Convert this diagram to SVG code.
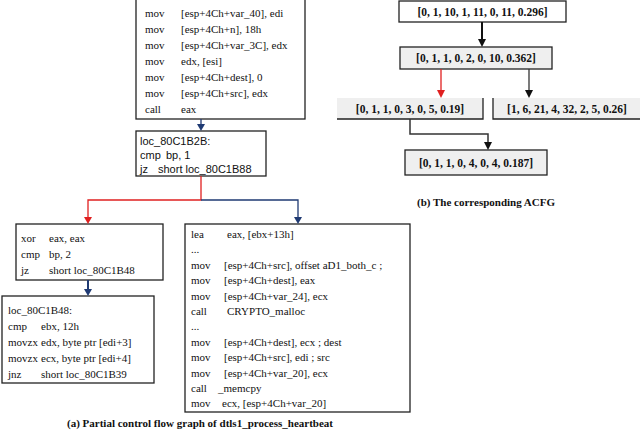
<svg xmlns="http://www.w3.org/2000/svg" width="640" height="431" viewBox="0 0 640 431">
<style>
.b{fill:#fff;stroke:#222;stroke-width:1.3}
.g{fill:#efefef;stroke:#222;stroke-width:1.3}
.t{font-family:"Liberation Serif",serif;font-size:11px;fill:#111}
.s{font-family:"Liberation Sans",sans-serif;font-size:11px;fill:#111}
.v{font-family:"Liberation Serif",serif;font-size:11.5px;font-weight:bold;fill:#111}
.c{font-family:"Liberation Serif",serif;font-size:11px;font-weight:bold;fill:#111}
</style>
<g id="n1"><rect class="b" x="136" y="-1" width="169" height="120"/>
<text class="t" x="145" y="17">mov</text><text class="t" x="181" y="17">[esp+4Ch+var_40], edi</text>
<text class="t" x="145" y="33">mov</text><text class="t" x="181" y="33">[esp+4Ch+n], 18h</text>
<text class="t" x="145" y="49">mov</text><text class="t" x="181" y="49">[esp+4Ch+var_3C], edx</text>
<text class="t" x="145" y="65">mov</text><text class="t" x="181" y="65">edx, [esi]</text>
<text class="t" x="145" y="81">mov</text><text class="t" x="181" y="81">[esp+4Ch+dest], 0</text>
<text class="t" x="145" y="97">mov</text><text class="t" x="181" y="97">[esp+4Ch+src], edx</text>
<text class="t" x="145" y="113">call</text><text class="t" x="181" y="113">eax</text></g>
<g id="n2"><rect class="b" x="136" y="131" width="130" height="45"/>
<text class="s" x="140" y="145">loc_80C1B2B:</text>
<text class="s" x="140" y="159">cmp</text><text class="s" x="166" y="159">bp, 1</text>
<text class="s" x="140" y="173">jz</text><text class="s" x="158" y="173">short loc_80C1B88</text></g>
<g id="n3"><rect class="b" x="16" y="224" width="147" height="56"/>
<text class="t" x="21" y="242">xor</text><text class="t" x="49" y="242">eax, eax</text>
<text class="t" x="21" y="258">cmp</text><text class="t" x="49" y="258">bp, 2</text>
<text class="t" x="21" y="274">jz</text><text class="t" x="49" y="274">short loc_80C1B48</text></g>
<g id="n4"><rect class="b" x="2" y="296" width="152" height="87"/>
<text class="t" x="8" y="314">loc_80C1B48:</text>
<text class="t" x="8" y="330">cmp</text><text class="t" x="41" y="330">ebx, 12h</text>
<text class="t" x="8" y="346">movzx</text><text class="t" x="41" y="346">edx, byte ptr [edi+3]</text>
<text class="t" x="8" y="362">movzx</text><text class="t" x="41" y="362">ecx, byte ptr [edi+4]</text>
<text class="t" x="8" y="378">jnz</text><text class="t" x="41" y="378">short loc_80C1B39</text></g>
<g id="n5"><rect class="b" x="185" y="224" width="225" height="188"/>
<text class="t" x="191" y="238">lea</text><text class="t" x="227" y="238">eax, [ebx+13h]</text>
<text class="t" x="191" y="253">...</text>
<text class="t" x="191" y="269">mov</text><text class="t" x="224" y="269">[esp+4Ch+src], offset aD1_both_c ;</text>
<text class="t" x="191" y="284">mov</text><text class="t" x="224" y="284">[esp+4Ch+dest], eax</text>
<text class="t" x="191" y="300">mov</text><text class="t" x="224" y="300">[esp+4Ch+var_24], ecx</text>
<text class="t" x="191" y="315">call</text><text class="t" x="227" y="315">CRYPTO_malloc</text>
<text class="t" x="191" y="330">...</text>
<text class="t" x="191" y="346">mov</text><text class="t" x="224" y="346">[esp+4Ch+dest], ecx ; dest</text>
<text class="t" x="191" y="361">mov</text><text class="t" x="224" y="361">[esp+4Ch+src], edi ; src</text>
<text class="t" x="191" y="377">mov</text><text class="t" x="224" y="377">[esp+4Ch+var_20], ecx</text>
<text class="t" x="191" y="392">call</text><text class="t" x="218" y="392">_memcpy</text>
<text class="t" x="191" y="407">mov</text><text class="t" x="222" y="407">ecx, [esp+4Ch+var_20]</text></g>
<g id="a"><rect class="b" x="399" y="1" width="167" height="21"/><text class="v" x="482.5" y="16" text-anchor="middle">[0, 1, 10, 1, 11, 0, 11, 0.296]</text></g>
<g id="b"><rect class="g" x="400" y="47" width="152" height="22"/><text class="v" x="476" y="62" text-anchor="middle">[0, 1, 1, 0, 2, 0, 10, 0.362]</text></g>
<g id="c"><rect x="337" y="98" width="146" height="21" fill="#efefef"/><path d="M483,98V119H337" fill="none" stroke="#222" stroke-width="1.3"/><text class="v" x="410" y="113" text-anchor="middle">[0, 1, 1, 0, 3, 0, 5, 0.19]</text></g>
<g id="d"><rect x="493" y="98" width="147" height="21" fill="#efefef"/><path d="M493,98V119H640" fill="none" stroke="#222" stroke-width="1.3"/><text class="v" x="567" y="113" text-anchor="middle">[1, 6, 21, 4, 32, 2, 5, 0.26]</text></g>
<g id="e"><rect class="g" x="405" y="150" width="142" height="25"/><text class="v" x="476" y="167" text-anchor="middle">[0, 1, 1, 0, 4, 0, 4, 0.187]</text></g>
<g id="connectors" fill="none" stroke-width="1.3">
<path d="M201,119V126" stroke="#1f3a73"/><path d="M197,124L205,124L201,131z" fill="#1f3a73" stroke="none"/>
<path d="M201,176V200H88V218" stroke="#e02020"/><path d="M84,217L92,217L88,224z" fill="#e02020" stroke="none"/>
<path d="M201,200H298V218" stroke="#1f3a73"/><path d="M294,217L302,217L298,224z" fill="#1f3a73" stroke="none"/>
<path d="M88,280V290" stroke="#1f3a73" stroke-width="2"/><path d="M84,289L92,289L88,296z" fill="#1f3a73" stroke="none"/>
<path d="M482,22V40" stroke="#111" stroke-width="2"/><path d="M478,39L486,39L482,47z" fill="#111" stroke="none"/>
<path d="M441,69V91" stroke="#e02020"/><path d="M437,90L445,90L441,98z" fill="#e02020" stroke="none"/>
<path d="M529,69V91" stroke="#333"/><path d="M525,90L533,90L529,98z" fill="#111" stroke="none"/>
<path d="M410,119V134H488V143" stroke="#333" stroke-width="1.5"/><path d="M484,142L492,142L488,150z" fill="#111" stroke="none"/>
</g>
<text class="c" x="200" y="427" text-anchor="middle">(a) Partial control flow graph  of dtls1_process_heartbeat</text>
<text class="c" x="486" y="206" text-anchor="middle">(b) The corresponding ACFG</text>
</svg>
